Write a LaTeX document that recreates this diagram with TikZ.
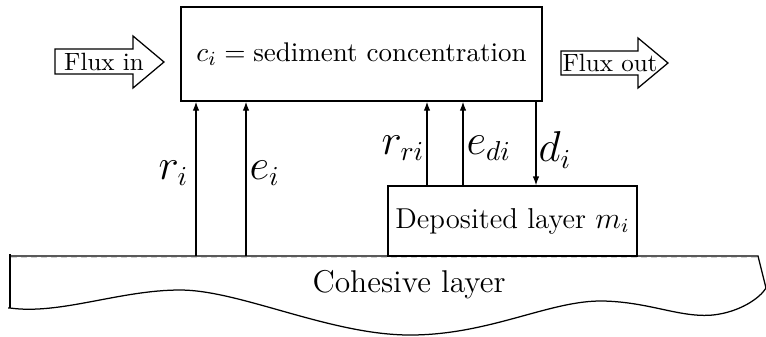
\documentclass[tikz,border=0pt]{standalone}
\usetikzlibrary{arrows.meta}
\begin{document}
\begin{tikzpicture}[x=0.4pt,y=-0.4pt, line width=0.5pt,
  box/.style={draw, rectangle, inner sep=0pt, align=center},
  flow/.style={draw, -{Latex[length=3.6pt,width=2.6pt]}},
  sym/.style={inner sep=0pt, font=\fontsize{16}{19}\selectfont},
  fluxtxt/.style={inner sep=0pt, font=\fontsize{10}{12}\selectfont},
  fluxshape/.style={draw, fill=white, line join=miter}]
\useasboundingbox (0,0) rectangle (766,336);

% concentration box
\node[box, minimum width=144.4pt, minimum height=37.6pt,
      font=\fontsize{10.8}{13}\selectfont] (conc) at (361.5,54) {$c_i = \mbox{sediment concentration}$};

% deposited layer
\node[box, minimum width=99.6pt, minimum height=28pt,
      font=\fontsize{11.5}{14}\selectfont] (dep) at (512.5,221) {Deposited layer $m_i$};

% cohesive layer
\draw[gray!35, line width=0.4pt, dash pattern=on 2.5pt off 1.5pt] (11,257.5) -- (757,257.5);
\draw (10,256) -- (758,256) -- (766,288)
  .. controls (760,298) and (740,312) .. (713,315)
  .. controls (680,318) and (650,302) .. (603,301)
  .. controls (550,300) and (490,335) .. (410,335)
  .. controls (330,335) and (240,290) .. (180,290)
  .. controls (120,290) and (60,315) .. (10,308) -- (8,308);
\draw (10,254) -- (10,308);
\node[inner sep=0pt, font=\fontsize{12.6}{15}\selectfont] (coh) at (409,285) {Cohesive layer};

% flux arrows
\draw[fluxshape] (55,49) -- (133,49) -- (133,36) -- (164,62) -- (133,88) -- (133,74) -- (55,74) -- cycle;
\node[fluxtxt] (fin) at (104,62) {Flux in};
\draw[fluxshape] (561,51) -- (638,51) -- (638,38) -- (668,63) -- (638,88) -- (638,75) -- (561,75) -- cycle;
\node[fluxtxt] (fout) at (610,63) {Flux out};

% exchange arrows
\coordinate (ri) at (196,256);
\coordinate (ei) at (246,256);
\coordinate (rri) at (427,186);
\coordinate (edi) at (463,186);
\coordinate (di) at (536,101);
\draw[flow] (ri) -- (ri |- conc.south);
\draw[flow] (ei) -- (ei |- conc.south);
\draw[flow] (rri) -- (rri |- conc.south);
\draw[flow] (edi) -- (edi |- conc.south);
\draw[flow] (di) -- (di |- dep.north);

% labels
\node[sym, anchor=east] (lri) at (189,173) {$r_i$};
\node[sym, anchor=west] (lei) at (249,173) {$e_i$};
\node[sym, anchor=east] (lrri) at (425,148) {$r_{ri}$};
\node[sym, anchor=west] (ledi) at (466,148) {$e_{di}$};
\node[sym, anchor=west] (ldi) at (538,150) {$d_i$};
\end{tikzpicture}
\end{document}
